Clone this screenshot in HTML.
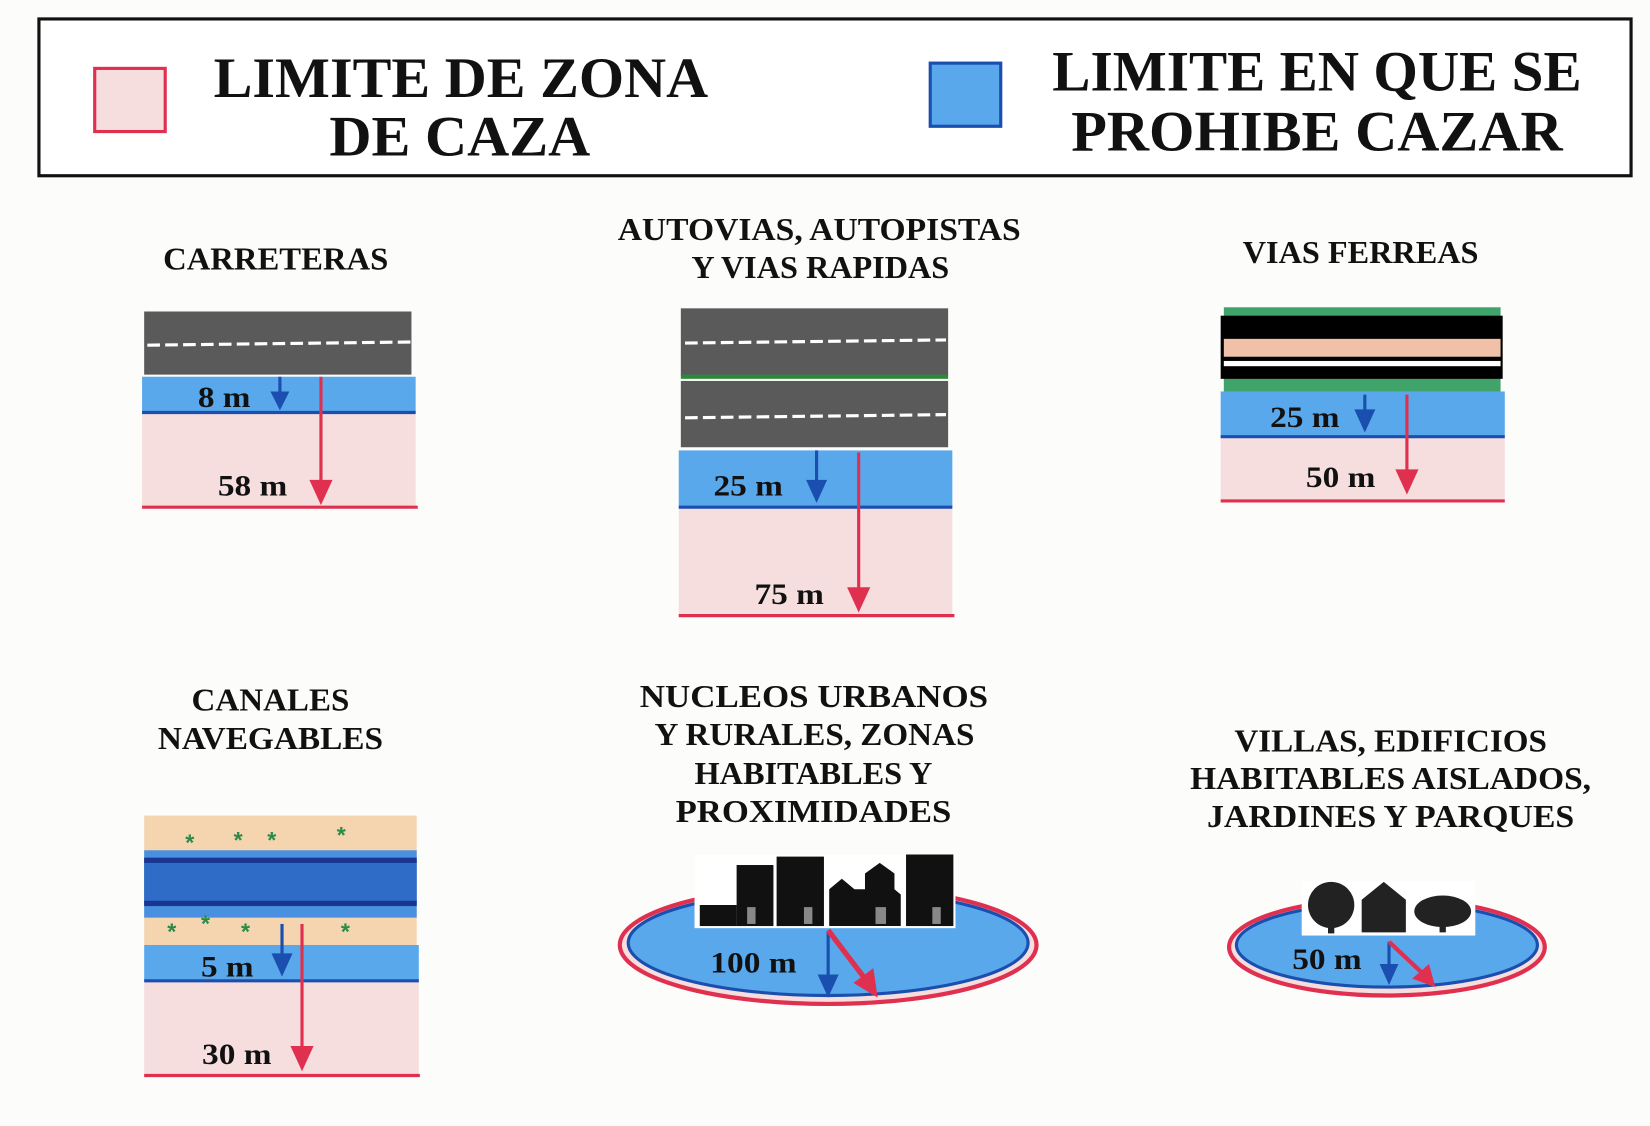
<!DOCTYPE html>
<html><head><meta charset="utf-8"><style>
html,body{margin:0;padding:0;background:#fcfcfa;}
svg{display:block;}
text{font-family:"Liberation Serif",serif;font-weight:bold;fill:#111;}
text.st{fill:#2a8a4a;font-family:"Liberation Sans",sans-serif;}
</style></head><body>
<svg width="1650" height="1126" viewBox="0 0 1568 1070" preserveAspectRatio="none" xmlns="http://www.w3.org/2000/svg">
<rect x="0" y="0" width="1568" height="1070" fill="#fcfcfa"/>
<!-- header -->
<rect x="37" y="18" width="1513" height="149" fill="#fff" stroke="#111" stroke-width="3"/>
<rect x="90" y="65" width="67" height="60" fill="#f6dede" stroke="#e03050" stroke-width="3"/>
<rect x="884" y="60" width="67" height="60" fill="#5aa8ec" stroke="#1a4fb0" stroke-width="3"/>
<g font-size="54" lengthAdjust="spacingAndGlyphs">
<text x="203" y="92" textLength="470" lengthAdjust="spacingAndGlyphs">LIMITE DE ZONA</text>
<text x="313" y="148" textLength="248" lengthAdjust="spacingAndGlyphs">DE CAZA</text>
<text x="1000" y="86" textLength="503" lengthAdjust="spacingAndGlyphs">LIMITE EN QUE SE</text>
<text x="1018" y="143" textLength="467" lengthAdjust="spacingAndGlyphs">PROHIBE CAZAR</text>
</g>
<!-- titles -->
<g font-size="30">
<text x="155" y="256" textLength="214" lengthAdjust="spacingAndGlyphs">CARRETERAS</text>
<text x="587" y="228" textLength="383" lengthAdjust="spacingAndGlyphs">AUTOVIAS, AUTOPISTAS</text>
<text x="657" y="264" textLength="245" lengthAdjust="spacingAndGlyphs">Y VIAS RAPIDAS</text>
<text x="1181" y="250" textLength="224" lengthAdjust="spacingAndGlyphs">VIAS FERREAS</text>
<text x="182" y="675" textLength="150" lengthAdjust="spacingAndGlyphs">CANALES</text>
<text x="150" y="712" textLength="214" lengthAdjust="spacingAndGlyphs">NAVEGABLES</text>
<text x="608" y="672" textLength="331" lengthAdjust="spacingAndGlyphs">NUCLEOS URBANOS</text>
<text x="622" y="708" textLength="304" lengthAdjust="spacingAndGlyphs">Y RURALES, ZONAS</text>
<text x="660" y="745" textLength="226" lengthAdjust="spacingAndGlyphs">HABITABLES Y</text>
<text x="642" y="781" textLength="262" lengthAdjust="spacingAndGlyphs">PROXIMIDADES</text>
<text x="1173" y="714" textLength="297" lengthAdjust="spacingAndGlyphs">VILLAS, EDIFICIOS</text>
<text x="1131" y="750" textLength="381" lengthAdjust="spacingAndGlyphs">HABITABLES AISLADOS,</text>
<text x="1147" y="786" textLength="349" lengthAdjust="spacingAndGlyphs">JARDINES Y PARQUES</text>
</g>

<!-- CARRETERAS -->
<rect x="137" y="296" width="254" height="60" fill="#5a5a5a"/>
<line x1="140" y1="328" x2="390" y2="325" stroke="#fff" stroke-width="3" stroke-dasharray="12,5"/>
<rect x="135" y="358" width="260" height="34" fill="#5aa8ec"/>
<rect x="135" y="393" width="260" height="89" fill="#f6dede"/>
<line x1="135" y1="392" x2="395" y2="392" stroke="#1a4fb0" stroke-width="3"/>
<line x1="135" y1="482" x2="397" y2="482" stroke="#e03050" stroke-width="3"/>
<line x1="266" y1="358" x2="266" y2="375" stroke="#1a4fb0" stroke-width="3"/>
<path d="M257,372 L275,372 L266,390 Z" fill="#1a4fb0"/>
<line x1="305" y1="358" x2="305" y2="462" stroke="#e03050" stroke-width="3"/>
<path d="M294,456 L316,456 L305,480 Z" fill="#e03050"/>
<g font-size="28"><text x="188" y="387" textLength="50" lengthAdjust="spacingAndGlyphs">8 m</text><text x="207" y="471" textLength="66" lengthAdjust="spacingAndGlyphs">58 m</text></g>

<!-- AUTOVIAS -->
<rect x="647" y="293" width="254" height="64" fill="#5a5a5a"/>
<rect x="647" y="356" width="254" height="4" fill="#2a8a3a"/>
<rect x="647" y="362" width="254" height="63" fill="#5a5a5a"/>
<line x1="651" y1="326" x2="899" y2="323" stroke="#fff" stroke-width="3" stroke-dasharray="12,5"/>
<line x1="651" y1="397" x2="899" y2="394" stroke="#fff" stroke-width="3" stroke-dasharray="12,5"/>
<rect x="645" y="428" width="260" height="54" fill="#5aa8ec"/>
<rect x="645" y="483" width="260" height="102" fill="#f6dede"/>
<line x1="645" y1="482" x2="905" y2="482" stroke="#1a4fb0" stroke-width="3"/>
<line x1="645" y1="585" x2="907" y2="585" stroke="#e03050" stroke-width="3"/>
<line x1="776" y1="428" x2="776" y2="460" stroke="#1a4fb0" stroke-width="3"/>
<path d="M766,456 L786,456 L776,478 Z" fill="#1a4fb0"/>
<line x1="816" y1="430" x2="816" y2="562" stroke="#e03050" stroke-width="3"/>
<path d="M805,558 L827,558 L816,582 Z" fill="#e03050"/>
<g font-size="28"><text x="678" y="471" textLength="66" lengthAdjust="spacingAndGlyphs">25 m</text><text x="717" y="574" textLength="66" lengthAdjust="spacingAndGlyphs">75 m</text></g>

<!-- VIAS FERREAS -->
<rect x="1163" y="292" width="263" height="80" fill="#3fa36a"/>
<rect x="1160" y="300" width="268" height="60" fill="#000"/>
<rect x="1163" y="322" width="263" height="17" fill="#f0c0a8"/>
<rect x="1163" y="343" width="263" height="5" fill="#fff"/>
<rect x="1160" y="372" width="270" height="43" fill="#5aa8ec"/>
<rect x="1160" y="416" width="270" height="60" fill="#f6dede"/>
<line x1="1160" y1="415" x2="1430" y2="415" stroke="#1a4fb0" stroke-width="3"/>
<line x1="1160" y1="476" x2="1430" y2="476" stroke="#e03050" stroke-width="3"/>
<line x1="1297" y1="375" x2="1297" y2="392" stroke="#1a4fb0" stroke-width="3"/>
<path d="M1287,389 L1307,389 L1297,411 Z" fill="#1a4fb0"/>
<line x1="1337" y1="375" x2="1337" y2="450" stroke="#e03050" stroke-width="3"/>
<path d="M1326,446 L1348,446 L1337,470 Z" fill="#e03050"/>
<g font-size="28"><text x="1207" y="406" textLength="66" lengthAdjust="spacingAndGlyphs">25 m</text><text x="1241" y="463" textLength="66" lengthAdjust="spacingAndGlyphs">50 m</text></g>

<!-- CANALES -->
<rect x="137" y="775" width="259" height="123" fill="#f5d4b0"/>
<rect x="137" y="808" width="259" height="64" fill="#4a90e0"/>
<rect x="137" y="818" width="259" height="40" fill="#2f6cc8"/>
<rect x="137" y="815" width="259" height="5" fill="#1a3590"/>
<rect x="137" y="856" width="259" height="5" fill="#1a3590"/>
<g font-size="22"><text class="st" x="176" y="808">*</text><text class="st" x="222" y="806">*</text><text class="st" x="254" y="806">*</text><text class="st" x="320" y="801">*</text><text class="st" x="159" y="893">*</text><text class="st" x="191" y="885">*</text><text class="st" x="229" y="893">*</text><text class="st" x="324" y="893">*</text></g>
<rect x="137" y="898" width="261" height="34" fill="#5aa8ec"/>
<rect x="137" y="933" width="261" height="89" fill="#f6dede"/>
<line x1="137" y1="932" x2="398" y2="932" stroke="#1a4fb0" stroke-width="3"/>
<line x1="137" y1="1022" x2="399" y2="1022" stroke="#e03050" stroke-width="3"/>
<line x1="268" y1="878" x2="268" y2="910" stroke="#1a4fb0" stroke-width="3"/>
<path d="M258,906 L278,906 L268,928 Z" fill="#1a4fb0"/>
<line x1="287" y1="878" x2="287" y2="998" stroke="#e03050" stroke-width="3"/>
<path d="M276,994 L298,994 L287,1018 Z" fill="#e03050"/>
<g font-size="28"><text x="191" y="928" textLength="50" lengthAdjust="spacingAndGlyphs">5 m</text><text x="192" y="1011" textLength="66" lengthAdjust="spacingAndGlyphs">30 m</text></g>

<!-- NUCLEOS -->
<ellipse cx="787" cy="898" rx="198" ry="56" fill="#f6dede" stroke="#e03050" stroke-width="4"/>
<ellipse cx="787" cy="896" rx="190" ry="50" fill="#5aa8ec" stroke="#1a4fb0" stroke-width="3"/>
<rect x="660" y="812" width="248" height="70" fill="#fff"/>
<g fill="#111">
<rect x="665" y="860" width="35" height="20"/><rect x="700" y="822" width="35" height="58"/>
<rect x="738" y="814" width="45" height="66"/>
<path d="M788,880 L788,845 L800,835 L812,845 L822,845 L822,830 L836,820 L850,830 L850,845 L856,850 L856,880 Z"/>
<rect x="861" y="812" width="45" height="68"/>
</g>
<g fill="#888"><rect x="710" y="862" width="8" height="16"/><rect x="764" y="862" width="8" height="16"/><rect x="832" y="862" width="10" height="16"/><rect x="886" y="862" width="8" height="16"/></g>
<line x1="787" y1="885" x2="787" y2="930" stroke="#1a4fb0" stroke-width="3"/>
<path d="M777,926 L797,926 L787,948 Z" fill="#1a4fb0"/>
<line x1="787" y1="884" x2="822" y2="930" stroke="#e03050" stroke-width="5"/>
<path d="M811,934 L830,920 L834,948 Z" fill="#e03050"/>
<text x="675" y="924" font-size="28" textLength="82" lengthAdjust="spacingAndGlyphs">100 m</text>

<!-- VILLAS -->
<ellipse cx="1318" cy="900" rx="150" ry="46" fill="#f6dede" stroke="#e03050" stroke-width="4"/>
<ellipse cx="1318" cy="898" rx="143" ry="40" fill="#5aa8ec" stroke="#1a4fb0" stroke-width="3"/>
<rect x="1237" y="837" width="165" height="52" fill="#fff"/>
<g fill="#222">
<ellipse cx="1265" cy="860" rx="22" ry="22"/><rect x="1262" y="875" width="6" height="12"/>
<path d="M1294,886 L1294,855 L1315,838 L1336,855 L1336,886 Z"/>
<ellipse cx="1371" cy="866" rx="27" ry="15"/><rect x="1368" y="874" width="6" height="12"/>
</g>
<line x1="1320" y1="895" x2="1320" y2="920" stroke="#1a4fb0" stroke-width="3"/>
<path d="M1311,916 L1329,916 L1320,936 Z" fill="#1a4fb0"/>
<line x1="1320" y1="895" x2="1352" y2="925" stroke="#e03050" stroke-width="4"/>
<path d="M1342,930 L1358,916 L1364,938 Z" fill="#e03050"/>
<text x="1228" y="921" font-size="28" textLength="66" lengthAdjust="spacingAndGlyphs">50 m</text>
</svg>
</body></html>
